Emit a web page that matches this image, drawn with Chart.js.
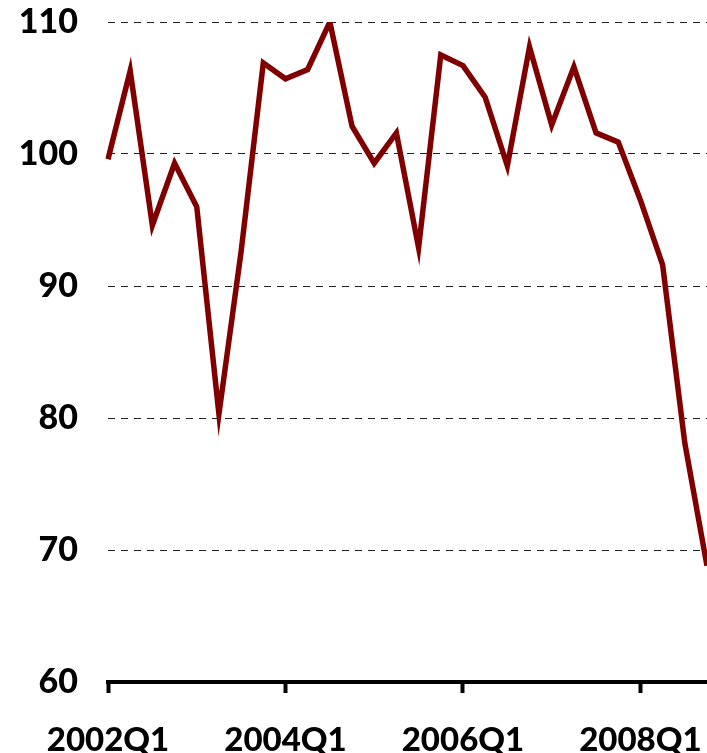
<!DOCTYPE html>
<html>
<head>
<meta charset="utf-8">
<script src="https://cdn.jsdelivr.net/npm/chart.js@4.4.0/dist/chart.umd.min.js"></script>
<style>
  html, body { margin: 0; padding: 0; background: #fff; }
  #wrap { width: 707px; height: 753px; position: relative; }
</style>
</head>
<body>
<div id="wrap"><canvas id="chart"></canvas></div>
<script>
// Quarters shown on the x axis
const quarters = [
  '2002Q1', '2002Q2', '2002Q3', '2002Q4',
  '2003Q1', '2003Q2', '2003Q3', '2003Q4',
  '2004Q1', '2004Q2', '2004Q3', '2004Q4',
  '2005Q1', '2005Q2', '2005Q3', '2005Q4',
  '2006Q1', '2006Q2', '2006Q3', '2006Q4',
  '2007Q1', '2007Q2', '2007Q3', '2007Q4',
  '2008Q1', '2008Q2', '2008Q3', '2008Q4'
];

// Index values
const indexValues = [
  99.6, 106.3, 94.6, 99.3, 96.0, 80.3, 92.6, 106.9,
  105.7, 106.4, 110.0, 102.1, 99.3, 101.6, 92.9, 107.5,
  106.7, 104.3, 99.1, 108.1, 102.2, 106.6, 101.6, 100.9,
  96.5, 91.6, 78.1, 68.8
];

// Tick labels
const xTickLabels = ['2002Q1', '2004Q1', '2006Q1', '2008Q1'];
const yTickValues = [60, 70, 80, 90, 100, 110];

const LINE_COLOR = '#800000';
const FONT_FAMILY = 'Lato, "Open Sans", sans-serif';

const ctx = document.getElementById('chart').getContext('2d');

new Chart(ctx, {
  type: 'line',
  data: {
    labels: quarters,
    datasets: [{
      data: indexValues,
      borderColor: LINE_COLOR,
      borderWidth: 5.5,
      borderJoinStyle: 'miter',
      pointRadius: 0,
      tension: 0,
      fill: false
    }]
  },
  options: {
    responsive: true,
    maintainAspectRatio: false,
    animation: false,
    layout: {
      padding: { top: 22, right: 0, bottom: 0, left: 0 }
    },
    plugins: {
      legend: { display: false },
      tooltip: { enabled: false },
      title: { display: false }
    },
    scales: {
      x: {
        type: 'category',
        offset: false,
        afterBuildTicks: scale => {
          scale.ticks = scale.ticks.filter(t => xTickLabels.includes(quarters[t.value]));
        },
        afterFit: scale => {
          // keep the plot flush with the right edge, like the original
          scale.height = 71;
          scale.paddingLeft = 0;
          scale.paddingRight = 0;
        },
        grid: {
          display: true,
          drawOnChartArea: false,
          drawTicks: true,
          tickLength: 11,
          tickColor: '#000',
          tickWidth: 4
        },
        border: {
          display: true,
          color: '#000',
          width: 4
        },
        ticks: {
          autoSkip: false,
          maxRotation: 0,
          padding: 28,
          color: '#000',
          font: { family: FONT_FAMILY, size: 33, weight: '900' }
        }
      },
      y: {
        min: yTickValues[0],
        max: yTickValues[yTickValues.length - 1],
        afterBuildTicks: scale => {
          scale.ticks = yTickValues.map(v => ({ value: v }));
        },
        afterFit: scale => {
          scale.width = 108;
          scale.paddingTop = 0;
          scale.paddingBottom = 0;
        },
        grid: {
          display: true,
          drawTicks: false,
          color: '#222',
          lineWidth: 1
        },
        border: {
          display: false,
          dash: [7, 6]
        },
        ticks: {
          padding: 30,
          color: '#000',
          font: { family: FONT_FAMILY, size: 34, weight: '900' }
        }
      }
    }
  }
});
</script>
</body>
</html>
